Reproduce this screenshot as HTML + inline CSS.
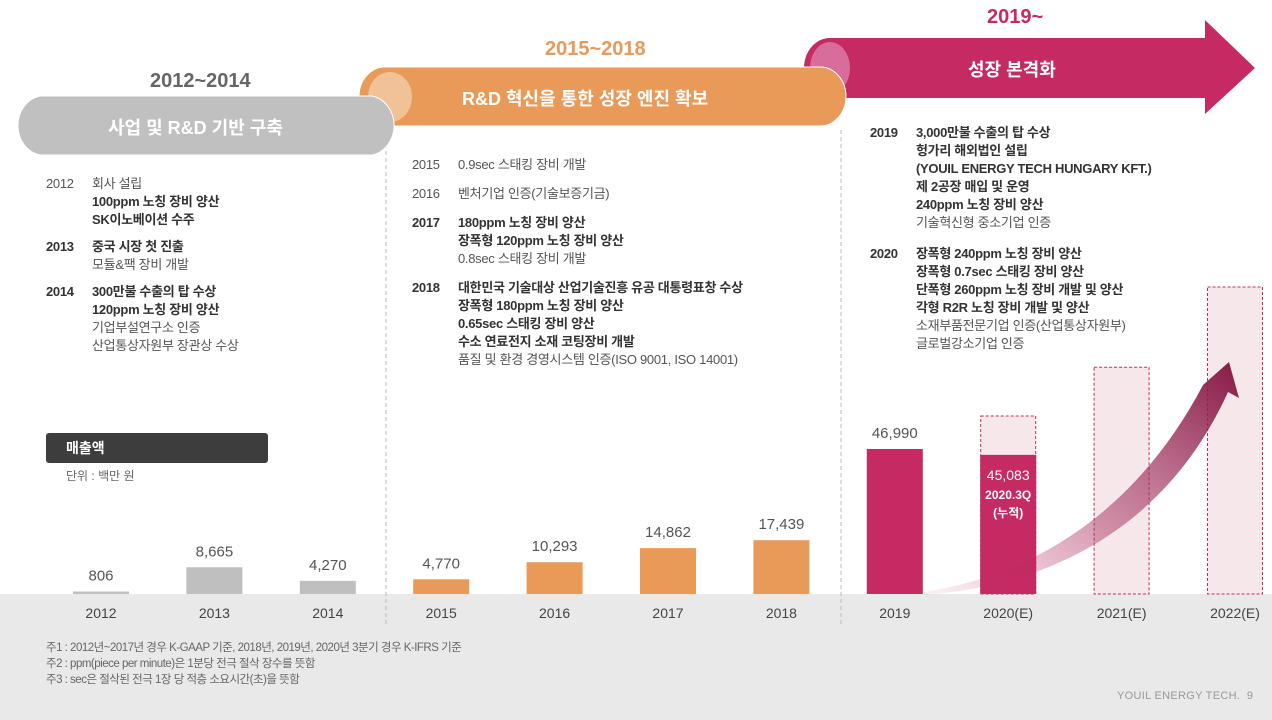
<!DOCTYPE html>
<html><head><meta charset="utf-8">
<style>
body{margin:0;width:1272px;height:720px;overflow:hidden;background:#fff;font-family:"Liberation Sans","Noto Sans CJK KR",sans-serif;position:relative;color:#555}
.a{position:absolute}
.t{font-size:13px;line-height:18px;color:#555;letter-spacing:-0.3px}
.t b{color:#333}
.yr{display:inline-block;width:46px}
.ind{padding-left:46px}
.p1 .blk{margin-bottom:9px}
.p2 .blk{margin-bottom:11px}
.p3 .blk{margin-bottom:13px}
</style></head><body>
<svg class="a" style="left:0;top:0" width="1272" height="720">
<rect x="0" y="594" width="1272" height="126" fill="#e9e9e9"/>
<line x1="386" y1="130" x2="386" y2="625" stroke="#bbb" stroke-dasharray="4,3"/>
<line x1="841" y1="130" x2="841" y2="625" stroke="#bbb" stroke-dasharray="4,3"/>
<path d="M830,38 L1205,38 L1205,20 L1255,68 L1205,114 L1205,98 L830,98 A26,30 0 0 1 830,38Z" fill="#c62a63"/>
<ellipse cx="830" cy="68" rx="20" ry="26" fill="#d86c9a"/>
<path d="M385,67 L820,67 A26,29.5 0 0 1 820,126 L385,126 A26,29.5 0 0 1 385,67Z" fill="#e99a58" stroke="#fff" stroke-width="1"/>
<ellipse cx="390" cy="97" rx="22" ry="25" fill="#f1c298"/>
<path d="M40,96 L372,96 A27,30 0 0 1 372,155 L40,155 A27,30 0 0 1 40,96Z" fill="#c0c0c0" stroke="#fff" stroke-width="1"/>
<g id="bars"></g>
<defs><linearGradient id="ag" x1="0" y1="1" x2="1" y2="0"><stop offset="0" stop-color="#c62a63" stop-opacity="0.05"/><stop offset="0.55" stop-color="#a0305e" stop-opacity="0.6"/><stop offset="1" stop-color="#861a45"/></linearGradient></defs>
<path d="M923,592 C1040,575 1140,505 1203,385 L1229,362 L1239,398 L1228,392 C1170,520 1060,585 923,595 Z" fill="url(#ag)"/>
<rect x="46" y="433" width="222" height="30" rx="3" fill="#3d3d3d"/>
<text x="66" y="453" font-size="14" font-weight="bold" fill="#fff">매출액</text>
<text x="66" y="480" font-size="12" fill="#666">단위 : 백만 원</text>
</svg>

<div class="a" style="left:150px;top:70px;font-size:20px;font-weight:bold;color:#666">2012~2014</div>
<div class="a" style="left:108px;top:114px;font-size:18px;font-weight:bold;color:#fff">사업 및 R&amp;D 기반 구축</div>
<div class="a" style="left:545px;top:38px;font-size:20px;font-weight:bold;color:#e99a58">2015~2018</div>
<div class="a" style="left:462px;top:85px;font-size:18px;font-weight:bold;color:#fff">R&amp;D 혁신을 통한 성장 엔진 확보</div>
<div class="a" style="left:987px;top:6px;font-size:20px;font-weight:bold;color:#c62a63">2019~</div>
<div class="a" style="left:968px;top:56px;font-size:18px;font-weight:bold;color:#fff">성장 본격화</div>

<div class="a t p1" style="left:46px;top:175px">
<div class="blk"><span class="yr">2012</span>회사 설립<div class="ind"><b>100ppm 노칭 장비 양산<br>SK이노베이션 수주</b></div></div>
<div class="blk"><span class="yr"><b>2013</b></span><b>중국 시장 첫 진출</b><div class="ind">모듈&amp;팩 장비 개발</div></div>
<div class="blk"><span class="yr"><b>2014</b></span><b>300만불 수출의 탑 수상</b><div class="ind"><b>120ppm 노칭 장비 양산</b><br>기업부설연구소 인증<br>산업통상자원부 장관상 수상</div></div>
</div>
<div class="a t p2" style="left:412px;top:156px">
<div class="blk"><span class="yr">2015</span>0.9sec 스태킹 장비 개발</div>
<div class="blk"><span class="yr">2016</span>벤처기업 인증(기술보증기금)</div>
<div class="blk"><span class="yr"><b>2017</b></span><b>180ppm 노칭 장비 양산</b><div class="ind"><b>장폭형 120ppm 노칭 장비 양산</b><br>0.8sec 스태킹 장비 개발</div></div>
<div class="blk"><span class="yr"><b>2018</b></span><b>대한민국 기술대상 산업기술진흥 유공 대통령표창 수상</b><div class="ind"><b>장폭형 180ppm 노칭 장비 양산<br>0.65sec 스태킹 장비 양산<br>수소 연료전지 소재 코팅장비 개발</b><br>품질 및 환경 경영시스템 인증(ISO 9001, ISO 14001)</div></div>
</div>
<div class="a t p3" style="left:870px;top:124px">
<div class="blk"><span class="yr"><b>2019</b></span><b>3,000만불 수출의 탑 수상</b><div class="ind"><b>헝가리 해외법인 설립<br>(YOUIL ENERGY TECH HUNGARY KFT.)<br>제 2공장 매입 및 운영<br>240ppm 노칭 장비 양산</b><br>기술혁신형 중소기업 인증</div></div>
<div class="blk"><span class="yr"><b>2020</b></span><b>장폭형 240ppm 노칭 장비 양산</b><div class="ind"><b>장폭형 0.7sec 스태킹 장비 양산<br>단폭형 260ppm 노칭 장비 개발 및 양산<br>각형 R2R 노칭 장비 개발 및 양산</b><br>소재부품전문기업 인증(산업통상자원부)<br>글로벌강소기업 인증</div></div>
</div>

<div class="a" style="left:46px;top:640px;font-size:11.5px;line-height:16px;color:#666;letter-spacing:-0.5px">주1 : 2012년~2017년 경우 K-GAAP 기준, 2018년, 2019년, 2020년 3분기 경우 K-IFRS 기준<br>주2 : ppm(piece per minute)은 1분당 전극 절삭 장수를 뜻함<br>주3 : sec은 절삭된 전극 1장 당 적층 소요시간(초)을 뜻함</div>
<div class="a" style="left:1117px;top:690px;font-size:11px;color:#999;letter-spacing:0.3px">YOUIL ENERGY TECH.&nbsp;&nbsp;9</div>

<script>
const categories=["2012","2013","2014","2015","2016","2017","2018","2019","2020(E)","2021(E)","2022(E)"];
const revenue=[806,8665,4270,4770,10293,14862,17439,46990,45083,null,null];
const labels=["806","8,665","4,270","4,770","10,293","14,862","17,439","46,990","45,083","",""];
const estimates=[null,null,null,null,null,null,null,null,57700,73500,99500];
const colors=["#bfbfbf","#bfbfbf","#bfbfbf","#e99a58","#e99a58","#e99a58","#e99a58","#c62a63","#c62a63","#c62a63","#c62a63"];
const NS="http://www.w3.org/2000/svg";
const base=594,scale=145/46990,x0=101,step=113.4,bw=56;
const xc=i=>x0+i*step;
const yv=v=>base-v*scale;
const g=document.getElementById('bars');
function mk(t,a){const e=document.createElementNS(NS,t);for(const k in a)e.setAttribute(k,a[k]);g.appendChild(e);return e;}
categories.forEach((c,i)=>{
  const x=xc(i);
  if(estimates[i]!=null){
    const r=mk('rect',{x:x-bw/2+0.5,y:yv(estimates[i]),width:bw-1,height:base-yv(estimates[i]),fill:'#f6e8ea',stroke:'#c62a63','stroke-dasharray':'3,2','stroke-width':1});
    
    
  }
  if(revenue[i]!=null){
    const r=mk('rect',{x:x-bw/2,y:yv(revenue[i]),width:bw,height:base-yv(revenue[i]),fill:colors[i]});
    
    
    if(i===8){
      const t=mk('text',{x:x,y:yv(revenue[i])+25,'text-anchor':'middle','font-size':14,fill:'#fff'});t.textContent=labels[i];
      
      
      const t2=mk('text',{x:x,y:yv(revenue[i])+44,'text-anchor':'middle','font-size':12,'font-weight':'bold',fill:'#fff'});t2.textContent='2020.3Q';
      
      
      const t3=mk('text',{x:x,y:yv(revenue[i])+62,'text-anchor':'middle','font-size':12,'font-weight':'bold',fill:'#fff'});t3.textContent='(누적)';
      
      
    } else {
      const t=mk('text',{x:x,y:yv(revenue[i])-11,'text-anchor':'middle','font-size':15,fill:'#555'});t.textContent=labels[i];
      
      
    }
  }
  const l=mk('text',{x:x,y:618,'text-anchor':'middle','font-size':14,fill:'#444'});l.textContent=c;
  
  
});
</script>
</body></html>
